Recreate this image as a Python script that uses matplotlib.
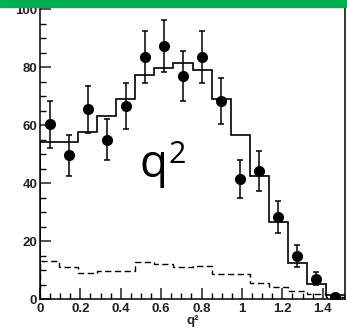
import matplotlib
matplotlib.use("Agg")
import matplotlib.pyplot as plt
import numpy as np

# q^2 binning: 16 bins from 0 to q2_max
Q2_MAX = 1.51
N_BINS = 16

# data points (one per bin) and their errors
data_values = [60.2, 49.5, 65.4, 54.9, 66.5, 83.4, 87.2, 76.9,
               83.4, 68.3, 41.3, 44.2, 28.2, 14.9, 7.0, 0.8]
data_errors = [8.2, 7.0, 8.0, 7.0, 8.0, 9.0, 9.0, 8.5,
               9.0, 8.0, 6.5, 6.8, 5.5, 3.8, 2.3, 1.0]

# total fit (solid) and background (dashed) histograms
fit_values = [54.3, 54.3, 57.7, 63.1, 68.9, 77.4, 79.6, 81.4,
              78.8, 69.1, 56.6, 42.4, 26.7, 12.3, 5.1, 1.4]
bkg_values = [13.2, 11.0, 8.9, 9.5, 9.5, 12.6, 12.0, 11.2,
              11.3, 8.5, 8.5, 5.5, 4.0, 2.6, 1.8, 0.8]

y_ticks = [0, 20, 40, 60, 80, 100]
x_ticks = [0, 0.2, 0.4, 0.6, 0.8, 1.0, 1.2, 1.4]
x_tick_labels = ["0", "0.2", "0.4", "0.6", "0.8", "1", "1.2", "1.4"]

W, H = 347, 332
fig = plt.figure(figsize=(W / 100, H / 100), dpi=100)

# axes frame in pixels: left 40, right 345, bottom 299, top 7
ax = fig.add_axes([40 / W, 33 / H, 305 / W, 292 / H])

edges = np.linspace(0, Q2_MAX, N_BINS + 1)
centers = 0.5 * (edges[:-1] + edges[1:])

ax.stairs(fit_values, edges, color="black", linewidth=1.2)
ax.stairs(bkg_values, edges, color="black", linewidth=1.0,
          linestyle=(0, (4.5, 2.5)))
ax.errorbar(centers, data_values, yerr=data_errors, fmt="o", color="black",
            markersize=7, elinewidth=1.1, capsize=2.2, capthick=1.1,
            zorder=5)

ax.set_xlim(0, Q2_MAX)
ax.set_ylim(0, 292 / 2.9)

ax.set_yticks(y_ticks)
ax.set_yticks(np.arange(0, 101, 5), minor=True)
ax.set_xticks(x_ticks)
ax.set_xticklabels(x_tick_labels)
ax.set_xticks(np.arange(0, 1.5, 0.05), minor=True)

ax.tick_params(which="major", direction="in", length=8, width=1.1,
               labelsize=9.5, pad=3, colors="#222222")
ax.tick_params(axis="y", which="major", pad=2)
ax.tick_params(which="minor", direction="in", length=4.5, width=1.0)
for lab in ax.get_xticklabels() + ax.get_yticklabels():
    lab.set_fontweight("bold")
    lab.set_family("Liberation Sans")

for side in ["left", "bottom", "right", "top"]:
    ax.spines[side].set_linewidth(1.1)

ax.set_xlabel("q²", fontsize=9.5, fontweight="bold", family="Liberation Sans",
              labelpad=0, color="#222222")

# big q^2 annotation
fig.text(140 / W, (H - 177) / H, "q", fontsize=33, family="Open Sans",
         ha="left", va="baseline")
fig.text(168 / W, (H - 163) / H, "2", fontsize=22, family="Open Sans",
         ha="left", va="baseline")

# green band on top
band = plt.Rectangle((0, (H - 7) / H), 1, 7 / H, transform=fig.transFigure,
                     color="#00B050", zorder=10)
fig.patches.append(band)

fig.savefig("out.png", dpi=100)
